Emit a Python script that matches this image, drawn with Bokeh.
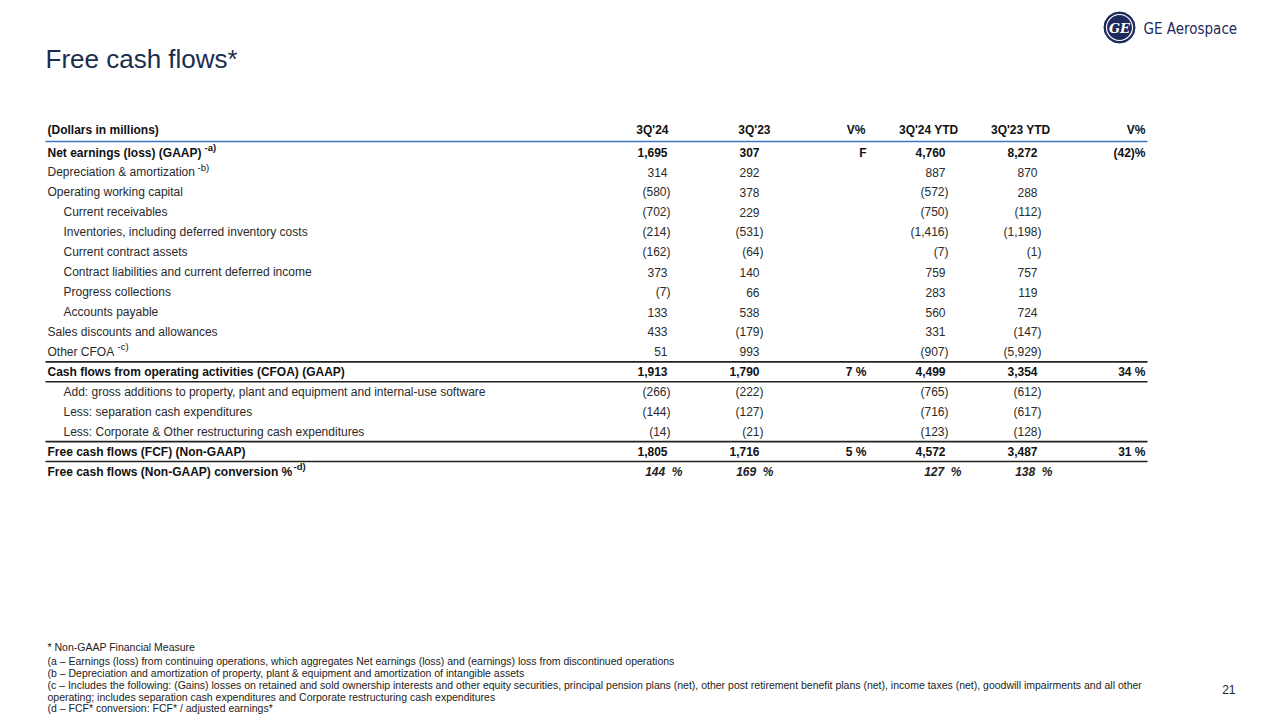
from bokeh.plotting import figure
from bokeh.models import Range1d, ColumnDataSource
from bokeh.core.properties import value
from bokeh.embed import file_html
from bokeh.resources import INLINE

# ---------------- data ----------------
title = "Free cash flows*"
header_label = "(Dollars in millions)"
col_headers = ["3Q'24", "3Q'23", "V%", "3Q'24 YTD", "3Q'23 YTD", "V%"]

row_labels = [
    "Net earnings (loss) (GAAP)",
    "Depreciation & amortization",
    "Operating working capital",
    "Current receivables",
    "Inventories, including deferred inventory costs",
    "Current contract assets",
    "Contract liabilities and current deferred income",
    "Progress collections",
    "Accounts payable",
    "Sales discounts and allowances",
    "Other CFOA",
    "Cash flows from operating activities (CFOA) (GAAP)",
    "Add: gross additions to property, plant and equipment and internal-use software",
    "Less: separation cash expenditures",
    "Less: Corporate & Other restructuring cash expenditures",
    "Free cash flows (FCF) (Non-GAAP)",
    "Free cash flows (Non-GAAP) conversion %",
]
row_indent = [0, 0, 0, 1, 1, 1, 1, 1, 1, 0, 0, 0, 1, 1, 1, 0, 0]
row_bold = [1, 0, 0, 0, 0, 0, 0, 0, 0, 0, 0, 1, 0, 0, 0, 1, 1]
row_sup = ["-a)", "-b)", "", "", "", "", "", "", "", "", "-c)", "", "", "", "", "", "-d)"]

q3_24 = [1695, 314, -580, -702, -214, -162, 373, -7, 133, 433, 51, 1913, -266, -144, -14, 1805]
q3_23 = [307, 292, 378, 229, -531, -64, 140, 66, 538, -179, 993, 1790, -222, -127, -21, 1716]
v_q = ["F", "", "", "", "", "", "", "", "", "", "", "7\u00a0%", "", "", "", "5\u00a0%"]
ytd_24 = [4760, 887, -572, -750, -1416, -7, 759, 283, 560, 331, -907, 4499, -765, -716, -123, 4572]
ytd_23 = [8272, 870, 288, -112, -1198, -1, 757, 119, 724, -147, -5929, 3354, -612, -617, -128, 3487]
v_ytd = ["(42)%", "", "", "", "", "", "", "", "", "", "", "34\u00a0%", "", "", "", "31\u00a0%"]
conversion = [144, 169, 127, 138]  # 3Q'24, 3Q'23, 3Q'24 YTD, 3Q'23 YTD

footnotes = [
    "* Non-GAAP Financial Measure",
    "(a \u2013 Earnings (loss) from continuing operations, which aggregates Net earnings (loss) and (earnings) loss from discontinued operations",
    "(b \u2013 Depreciation and amortization of property, plant & equipment and amortization of intangible assets",
    "(c \u2013 Includes the following: (Gains) losses on retained and sold ownership interests and other equity securities, principal pension plans (net), other post retirement benefit plans (net), income taxes (net), goodwill impairments and all other",
    "operating; includes separation cash expenditures and Corporate restructuring cash expenditures",
    "(d \u2013 FCF* conversion: FCF* / adjusted earnings*",
]
page_number = "21"
brand = "GE Aerospace"

# ---------------- layout ----------------
W, H = 1280, 720
p = figure(width=W, height=H, x_range=Range1d(0, W), y_range=Range1d(H, 0),
           output_backend="svg", toolbar_location=None, min_border=0,
           x_axis_location=None, y_axis_location=None)
p.grid.visible = False
p.outline_line_color = None
p.background_fill_color = "white"
p.border_fill_color = "white"

FONT = value("Liberation Sans")
TXT = "#2a2a2a"
DARK = "#111111"
NAVY = "#1e2a5c"
FS = "12px"


def txt(xs, ys, texts, size=FS, style="normal", align="left", color=TXT, font=FONT, baseline="middle"):
    src = ColumnDataSource(dict(x=list(xs), y=list(ys), t=list(texts)))
    p.text(x="x", y="y", text="t", source=src, text_font=font, text_font_size=size,
           text_font_style=style, text_align=align, text_baseline=baseline, text_color=color)


# title
txt([45], [58], [title], size="26px", color="#1b2c4d")

# logo
p.scatter([1119], [27], size=31, fill_color=NAVY, line_color=NAVY)
p.scatter([1119], [27], size=26, fill_color=None, line_color="white", line_width=1.2)
txt([1119], [28], ["GE"], size="13px", style="bold italic", align="center", color="white",
    font=value("DejaVu Serif"))
txt([1143], [28], [brand], size="15px", color=NAVY,
    font=value("Liberation Sans Narrow, DejaVu Sans Condensed, sans-serif"))

# header
y_head = 129
txt([47], [y_head], [header_label], size="12px", style="bold", color=DARK)
head_x = [668, 770, 865, 958, 1050, 1145]
txt(head_x, [y_head] * 6, col_headers, size="12px", style="bold", align="right", color=DARK)

# rows
y0, dy = 152, 19.94
ys = [y0 + i * dy for i in range(len(row_labels))]

for b in (0, 1):
    idx = [i for i in range(len(row_labels)) if row_bold[i] == b]
    txt([47 + 16 * row_indent[i] for i in idx], [ys[i] for i in idx], [row_labels[i] for i in idx],
        style="bold" if b else "normal", color=DARK if b else TXT)

# superscripts (placed after label)
sup_x = {0: 204, 1: 197, 10: 117, 16: 293}
for i, s in enumerate(row_sup):
    if s:
        txt([sup_x[i]], [ys[i] - 5], [s], size="9.5px", style="bold" if row_bold[i] else "normal",
            color=DARK)


def fmt(v):
    s = f"{abs(v):,}"
    return f"({s})" if v < 0 else s


def num_col(vals, right_pos, right_neg):
    for b in (0, 1):
        for neg in (False, True):
            idx = [i for i, v in enumerate(vals) if row_bold[i] == b and (v < 0) == neg]
            if not idx:
                continue
            txt([right_neg if neg else right_pos] * len(idx), [ys[i] for i in idx],
                [fmt(vals[i]) for i in idx], style="bold" if b else "normal",
                align="right", color=DARK if b else TXT)


num_col(q3_24, 667, 670)
num_col(q3_23, 759, 763)
num_col(ytd_24, 945, 948)
num_col(ytd_23, 1037, 1041)

for vals, xr in ((v_q, 866), (v_ytd, 1145)):
    idx = [i for i, v in enumerate(vals) if v]
    txt([xr] * len(idx), [ys[i] for i in idx], [vals[i] for i in idx],
        style="bold", align="right", color=DARK)

# conversion row
conv_x = [682, 773, 961, 1052]
txt(conv_x, [ys[16]] * 4, [f"{c}\u00a0\u00a0%" for c in conversion], style="bold italic",
    align="right", color="#222222")

# rules
p.segment(x0=[45], y0=[141], x1=[1147], y1=[141], line_color="#3a78c0", line_width=1.5)
rule_y = [(ys[10] + ys[11]) / 2, (ys[11] + ys[12]) / 2, (ys[14] + ys[15]) / 2, (ys[15] + ys[16]) / 2]
p.segment(x0=[45] * 4, y0=rule_y, x1=[1147] * 4, y1=rule_y, line_color="#222222", line_width=1.6)

# footnotes
fy = [646, 660, 672, 684, 696, 707]
txt([47] * len(footnotes), fy, footnotes, size="10.5px", color="#222222")
txt([1235], [689], [page_number], size="12px", align="right", color="#222222")

open("out.html", "w").write(file_html(p, INLINE))
